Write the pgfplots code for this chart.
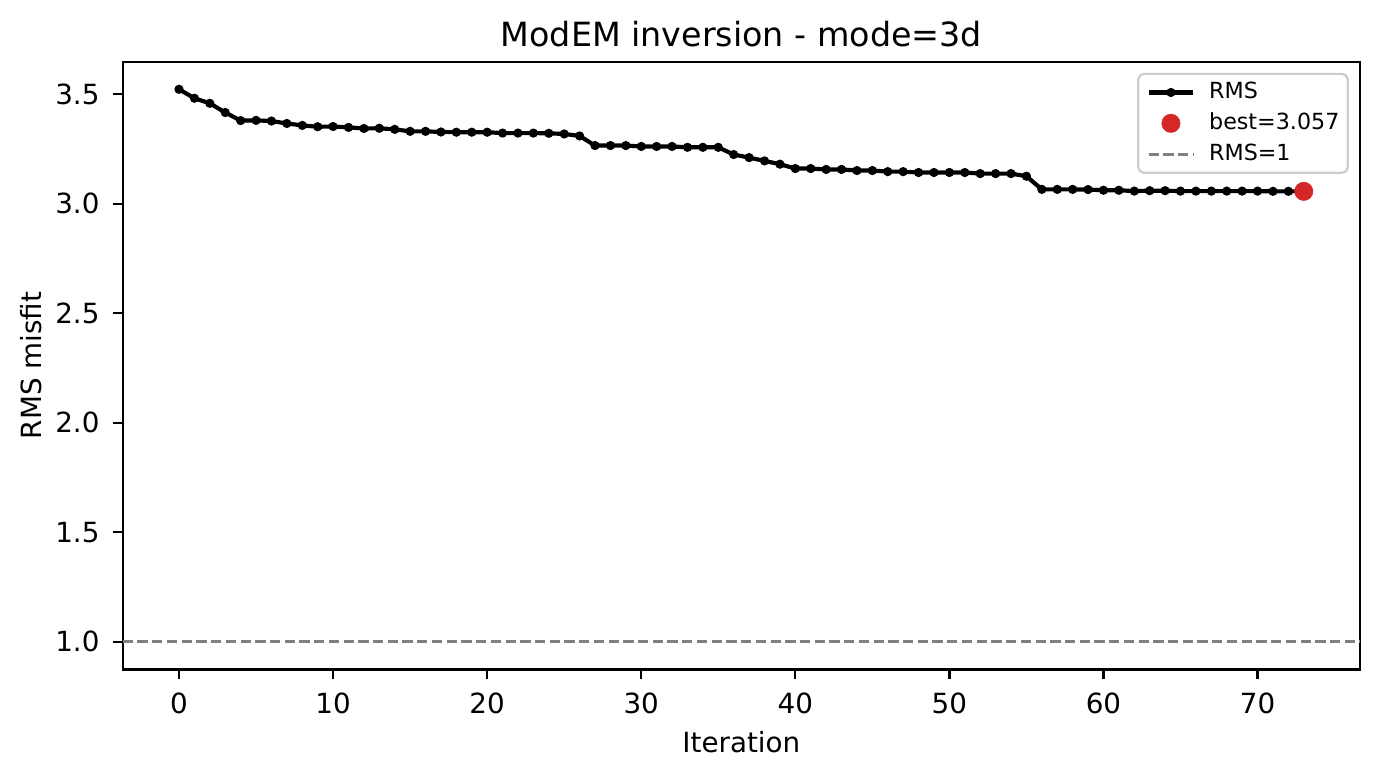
\documentclass[border=0pt]{standalone}
\usepackage{fontspec}
\setmainfont{DejaVu Sans}
\usepackage{pgfplots}
\pgfplotsset{compat=1.18}
\definecolor{tabred}{HTML}{D62728}
\definecolor{legedge}{gray}{0.8}
\pgfplotstableread{
it rms
0 3.523
1 3.482
2 3.459
3 3.417
4 3.380
5 3.381
6 3.378
7 3.367
8 3.358
9 3.352
10 3.353
11 3.349
12 3.344
13 3.345
14 3.340
15 3.331
16 3.331
17 3.328
18 3.327
19 3.327
20 3.327
21 3.323
22 3.323
23 3.323
24 3.322
25 3.319
26 3.310
27 3.266
28 3.266
29 3.266
30 3.262
31 3.262
32 3.262
33 3.258
34 3.258
35 3.258
36 3.225
37 3.211
38 3.196
39 3.181
40 3.161
41 3.161
42 3.157
43 3.157
44 3.152
45 3.152
46 3.147
47 3.147
48 3.143
49 3.143
50 3.143
51 3.143
52 3.138
53 3.138
54 3.138
55 3.126
56 3.066
57 3.066
58 3.066
59 3.065
60 3.062
61 3.062
62 3.058
63 3.060
64 3.060
65 3.058
66 3.058
67 3.058
68 3.058
69 3.058
70 3.058
71 3.057
72 3.057
73 3.057
}\rmsdata
\begin{document}
\begin{tikzpicture}
\begin{axis}[
  scale only axis,
  width=445.4pt, height=218.8pt,
  xmin=-3.65, xmax=76.65, ymin=0.8738, ymax=3.6492,
  xtick={0,10,20,30,40,50,60,70},
  ytick={1.0,1.5,2.0,2.5,3.0,3.5},
  yticklabels={1.0,1.5,2.0,2.5,3.0,3.5},
  xtick pos=left, ytick pos=left,
  tick align=outside,
  major tick length=3.5pt,
  every tick/.style={black, line width=0.8pt},
  axis line style={line width=0.8pt},
  tick label style={font=\fontsize{10}{12}\selectfont},
  /pgf/number format/assume math mode=true,
  xticklabel style={anchor=base, inner sep=0pt, yshift=-12.3pt},
  yticklabel style={anchor=east, inner sep=0pt, xshift=-4.7pt},
  legend cell align=left,
  legend image code/.code={\draw[mark repeat=2,mark phase=2,#1] plot coordinates {(0pt,0pt) (8pt,0pt) (16pt,0pt)};},
  legend style={
    at={(rel axis cs:1,1)}, anchor=north east, xshift=-4pt, yshift=-4pt,
    draw=legedge, line width=0.8pt, fill=white, rounded corners=2pt,
    font=\fontsize{8}{9.6}\selectfont,
    inner xsep=3pt, inner ysep=2.9pt,
    row sep=3.5pt, column sep=5pt,
    nodes={inner sep=0pt, text height=6pt, text depth=1.6pt},
    cells={anchor=west},
  },
]
\addplot[black, line width=1.5pt, mark=*, mark size=1.4pt, mark options={solid, fill=black, line width=0.5pt}] table[x=it, y=rms] {\rmsdata};
\addlegendentry{RMS}
\addplot[only marks, mark=*, mark size=3.3pt, color=tabred, mark options={fill=tabred, line width=0.2pt}] coordinates {(73,3.057)};
\addlegendentry{best=3.057}
\addplot[gray, line width=1pt, dash pattern=on 3.7pt off 1.6pt] coordinates {(-3.65,1) (76.65,1)};
\addlegendentry{RMS=1}
\coordinate (SW) at (rel axis cs:0,0);
\coordinate (NE) at (rel axis cs:1,1);
\coordinate (TT) at (rel axis cs:0.5,1);
\coordinate (XL) at (rel axis cs:0.5,0);
\coordinate (YL) at (rel axis cs:0,0.5);
\end{axis}
\node[anchor=base, inner sep=0pt, font=\fontsize{12}{14.4}\selectfont] at ([yshift=5.4pt]TT) {ModEM inversion - mode=3d};
\node[anchor=base, inner sep=0pt, font=\fontsize{10}{12}\selectfont] at ([yshift=-29.9pt]XL) {Iteration};
\node[anchor=base, rotate=90, inner sep=0pt, font=\fontsize{10}{12}\selectfont] at ([xshift=-29.1pt]YL) {RMS misfit};
\pgfresetboundingbox
\path ([shift={(-44.2pt,-38.7pt)}]SW) rectangle ([shift={(7.2pt,22.2pt)}]NE);
\end{tikzpicture}
\end{document}
